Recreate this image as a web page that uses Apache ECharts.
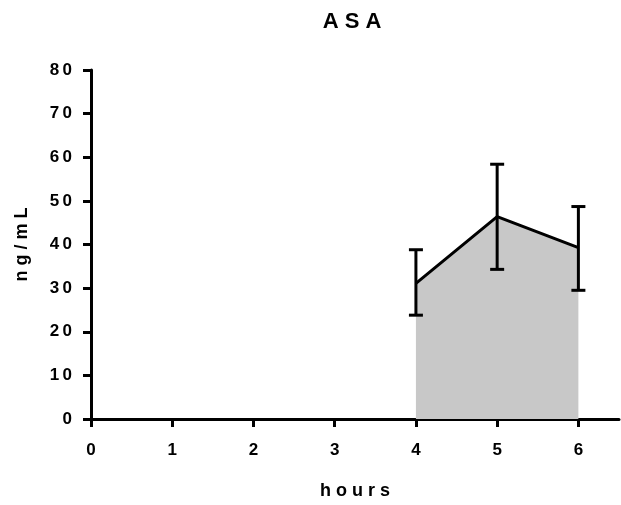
<!DOCTYPE html>
<html>
<head>
<meta charset="utf-8">
<script src="https://cdn.jsdelivr.net/npm/echarts@6/dist/echarts.min.js"></script>
<style>
  html, body { margin: 0; padding: 0; background: #fff; }
  #chart { width: 621px; height: 505px; }
</style>
</head>
<body>
<div id="chart"></div>
<script>
// ASA plasma concentration over time (mean with error bars)
const hours = [4, 5, 6];
const meanConc = [31.1, 46.4, 39.3];
const upperConc = [38.8, 58.4, 48.7];
const lowerConc = [23.8, 34.3, 29.5];
const yTicks = [0, 10, 20, 30, 40, 50, 60, 70, 80];
const xTicks = [0, 1, 2, 3, 4, 5, 6];

const FONT = '"Liberation Sans", Arial, sans-serif';
// widen the letter spacing of labels and titles
const spaced = (s, gap) => String(s).split('').join(gap || '\u2009');

const chart = echarts.init(document.getElementById('chart'), null, { renderer: 'canvas' });

const meanPoints = hours.map((h, i) => [h, meanConc[i]]);
const errPoints = hours.map((h, i) => [h, lowerConc[i], upperConc[i]]);

chart.setOption({
  backgroundColor: '#ffffff',
  animation: false,
  title: {
    text: spaced('ASA', ' '),
    left: 347,
    textAlign: 'center',
    top: 6,
    textStyle: { fontFamily: FONT, fontWeight: 'bold', fontSize: 22, color: '#000' }
  },
  grid: { left: 91, right: 2, top: 70, bottom: 83, containLabel: false },
  xAxis: {
    type: 'value',
    min: 0,
    max: 6.5,
    interval: 1,
    name: spaced('hours', ' '),
    nameLocation: 'middle',
    nameGap: 63,
    nameTextStyle: { fontFamily: FONT, fontWeight: 'bold', fontSize: 18, color: '#000' },
    splitLine: { show: false },
    axisLine: { show: true, onZero: false, lineStyle: { color: '#000', width: 3 } },
    axisTick: { show: true, inside: false, length: 8, lineStyle: { color: '#000', width: 3 } },
    axisLabel: {
      showMaxLabel: false,
      margin: 23,
      fontFamily: FONT, fontWeight: 'bold', fontSize: 17, color: '#000',
      formatter: v => xTicks.includes(v) ? spaced(v) : ''
    }
  },
  yAxis: {
    type: 'value',
    min: 0,
    max: 80,
    interval: 10,
    name: spaced('ng/mL', ' '),
    nameLocation: 'middle',
    nameRotate: 90,
    nameGap: 60,
    nameTextStyle: { fontFamily: FONT, fontWeight: 'bold', fontSize: 18, color: '#000' },
    splitLine: { show: false },
    axisLine: { show: true, lineStyle: { color: '#000', width: 3 } },
    axisTick: { show: true, inside: false, length: 8, lineStyle: { color: '#000', width: 3 } },
    axisLabel: {
      margin: 19,
      fontFamily: FONT, fontWeight: 'bold', fontSize: 17, color: '#000',
      formatter: v => yTicks.includes(v) ? spaced(v) : ''
    }
  },
  series: [
    {
      type: 'line',
      data: meanPoints,
      symbol: 'none',
      lineStyle: { color: '#000', width: 3 },
      areaStyle: { color: '#c8c8c8', opacity: 1, origin: 'start' },
      z: 2
    },
    {
      type: 'custom',
      data: errPoints,
      z: 3,
      renderItem: (params, api) => {
        const x = api.value(0);
        const lo = api.coord([x, api.value(1)]);
        const hi = api.coord([x, api.value(2)]);
        const cap = 7;
        const style = { stroke: '#000', lineWidth: 3 };
        return {
          type: 'group',
          children: [
            { type: 'line', shape: { x1: hi[0], y1: hi[1], x2: lo[0], y2: lo[1] }, style },
            { type: 'line', shape: { x1: hi[0] - cap, y1: hi[1], x2: hi[0] + cap, y2: hi[1] }, style },
            { type: 'line', shape: { x1: lo[0] - cap, y1: lo[1], x2: lo[0] + cap, y2: lo[1] }, style }
          ]
        };
      }
    }
  ]
});
</script>
</body>
</html>
